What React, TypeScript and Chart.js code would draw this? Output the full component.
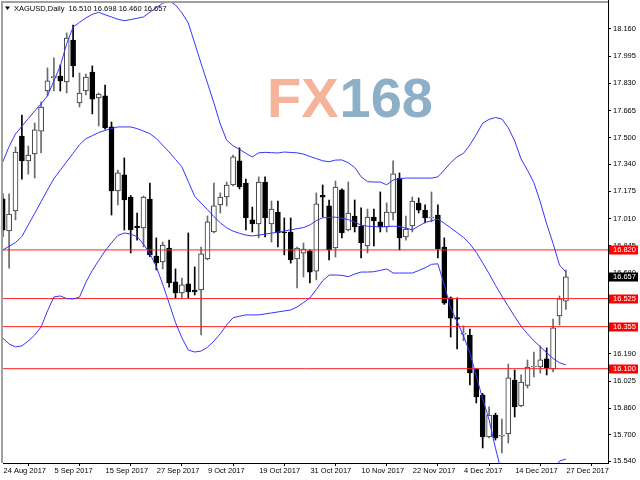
import React, { useEffect, useRef } from "react";
import { Chart, registerables } from "chart.js";

Chart.register(...registerables);

const SYMBOL = "XAGUSD";
const PERIOD = "Daily";

const DATE_LABELS = [
  "24 Aug 2017", "5 Sep 2017", "15 Sep 2017", "27 Sep 2017", "9 Oct 2017", "19 Oct 2017",
  "31 Oct 2017", "10 Nov 2017", "22 Nov 2017", "4 Dec 2017", "14 Dec 2017", "27 Dec 2017",
];
const LABEL_BARS = [0, 8, 16, 24, 32, 40, 48, 56, 64, 72, 80, 88];

const OPEN = [
  17.13, 16.935, 17.056, 17.511, 17.36, 17.402, 17.541, 17.784, 17.865, 17.875,
  17.839, 18.093, 17.711, 17.784, 17.899, 17.742, 17.754, 17.566, 17.178, 17.275,
  17.141, 16.965, 16.953, 17.129, 16.783, 16.747, 16.832, 16.626, 16.559, 16.614,
  16.577, 16.577, 16.765, 16.929, 17.093, 17.141, 17.214, 17.36, 17.226, 17.002,
  16.978, 17.232, 16.978, 17.05, 16.929, 16.929, 16.765, 16.801, 16.814, 16.692,
  17.152, 17.087, 16.832, 17.184, 16.941, 17.026, 16.965, 16.844, 17.02, 16.99,
  16.96, 17.044, 17.256, 16.899, 16.965, 17.105, 17.062, 17.014, 17.032, 16.838,
  16.529, 16.41, 16.31, 16.304, 16.098, 15.94, 15.686, 15.819, 15.69, 15.704,
  16.031, 15.874, 15.999, 16.11, 16.11, 16.159, 16.098, 16.42, 16.51,
];
const HIGH = [
  17.16, 17.16, 17.445, 17.638, 17.45, 17.59, 17.717, 17.924, 17.985, 17.942,
  18.136, 18.184, 17.893, 17.887, 17.936, 17.772, 17.82, 17.596, 17.305, 17.378,
  17.15, 17.044, 17.147, 17.226, 16.893, 16.868, 16.88, 16.705, 16.65, 16.923,
  16.717, 16.838, 17.026, 17.226, 17.166, 17.232, 17.396, 17.439, 17.25, 17.08,
  17.263, 17.263, 17.117, 17.117, 17.014, 17.014, 16.838, 16.862, 16.82, 17.166,
  17.214, 17.123, 17.238, 17.19, 17.232, 17.123, 17.075, 17.068, 17.068, 17.172,
  17.105, 17.36, 17.287, 17.026, 17.141, 17.135, 17.093, 17.172, 17.093, 16.893,
  16.535, 16.529, 16.36, 16.34, 16.1, 15.95, 15.868, 15.83, 15.795, 16.128,
  16.092, 16.062, 16.153, 16.2, 16.238, 16.226, 16.401, 16.541, 16.698,
];
const LOW = [
  16.9, 16.71, 17.002, 17.25, 17.28, 17.256, 17.408, 17.754, 17.785, 17.784,
  17.772, 17.869, 17.687, 17.76, 17.645, 17.572, 17.553, 17.032, 17.093, 16.941,
  16.802, 16.88, 16.838, 16.78, 16.699, 16.705, 16.595, 16.529, 16.529, 16.529,
  16.547, 16.304, 16.76, 16.923, 17.044, 17.087, 17.208, 17.19, 16.941, 16.929,
  16.893, 16.899, 16.868, 16.838, 16.79, 16.74, 16.589, 16.656, 16.62, 16.638,
  17.02, 16.76, 16.777, 16.893, 16.935, 16.929, 16.771, 16.802, 16.844, 16.929,
  16.929, 17.002, 16.82, 16.88, 16.929, 17.044, 16.984, 16.99, 16.771, 16.49,
  16.292, 16.22, 16.27, 16.001, 15.892, 15.619, 15.68, 15.667, 15.589, 15.649,
  15.807, 15.87, 15.983, 16.05, 16.074, 16.062, 16.08, 16.365, 16.46,
];
const CLOSE = [
  16.94, 17.038, 17.414, 17.36, 17.396, 17.548, 17.687, 17.845, 17.872, 17.845,
  18.105, 17.936, 17.772, 17.869, 17.735, 17.766, 17.56, 17.178, 17.287, 17.123,
  16.941, 16.955, 17.141, 16.79, 16.741, 16.85, 16.62, 16.559, 16.608, 16.565,
  16.565, 16.796, 16.99, 17.087, 17.141, 17.214, 17.384, 17.202, 17.014, 16.978,
  17.232, 17.014, 17.068, 16.923, 16.923, 16.759, 16.832, 16.826, 16.686, 17.099,
  17.14, 16.82, 17.202, 16.923, 17.044, 16.96, 16.862, 17.02, 16.996, 16.96,
  17.05, 17.281, 16.893, 16.947, 17.117, 17.062, 17.014, 17.02, 16.826, 16.498,
  16.407, 16.4, 16.31, 16.074, 15.928, 15.686, 15.819, 15.68, 15.695, 16.044,
  15.868, 16.019, 16.11, 16.115, 16.153, 16.104, 16.347, 16.523, 16.657,
];

const BB_UPPER = [
  17.353, 17.447, 17.523, 17.57, 17.617, 17.663, 17.706, 17.755, 17.845, 17.936,
  18.071, 18.172, 18.2, 18.227, 18.249, 18.261, 18.246, 18.233, 18.219, 18.21,
  18.217, 18.225, 18.233, 18.262, 18.289, 18.316, 18.33, 18.306, 18.258, 18.196,
  18.074, 17.951, 17.832, 17.711, 17.584, 17.485, 17.452, 17.43, 17.406, 17.384,
  17.409, 17.412, 17.41, 17.408, 17.414, 17.411, 17.409, 17.401, 17.387, 17.374,
  17.361, 17.355, 17.365, 17.366, 17.349, 17.32, 17.264, 17.234, 17.232, 17.232,
  17.215, 17.244, 17.252, 17.256, 17.256, 17.256, 17.256, 17.256, 17.263, 17.305,
  17.349, 17.385, 17.406, 17.457, 17.52, 17.589, 17.612, 17.623, 17.614, 17.561,
  17.481, 17.372, 17.303, 17.228, 17.111, 16.977, 16.859, 16.729, 16.686,
];
const BB_MIDDLE = [
  16.82, 16.842, 16.865, 16.902, 16.972, 17.042, 17.113, 17.184, 17.252, 17.304,
  17.355, 17.407, 17.458, 17.495, 17.513, 17.532, 17.545, 17.556, 17.566, 17.566,
  17.566, 17.556, 17.541, 17.525, 17.496, 17.455, 17.414, 17.369, 17.324, 17.235,
  17.145, 17.104, 17.065, 17.022, 16.985, 16.954, 16.934, 16.921, 16.91, 16.905,
  16.91, 16.916, 16.922, 16.928, 16.935, 16.942, 16.949, 16.956, 16.971, 16.998,
  17.015, 17.017, 17.019, 17.013, 17.004, 16.988, 16.971, 16.964, 16.962, 16.959,
  16.962, 16.964, 16.962, 16.952, 16.942, 16.965, 16.987, 16.997, 17.008, 16.982,
  16.954, 16.925, 16.896, 16.857, 16.805, 16.742, 16.676, 16.605, 16.54, 16.478,
  16.416, 16.357, 16.312, 16.269, 16.233, 16.197, 16.162, 16.136, 16.123,
];
const BB_LOWER = [
  16.286, 16.25, 16.232, 16.238, 16.268, 16.304, 16.353, 16.45, 16.535, 16.541,
  16.525, 16.523, 16.534, 16.624, 16.696, 16.756, 16.814, 16.864, 16.908, 16.923,
  16.916, 16.901, 16.855, 16.797, 16.719, 16.613, 16.497, 16.38, 16.287, 16.213,
  16.201, 16.207, 16.23, 16.267, 16.312, 16.366, 16.409, 16.418, 16.426, 16.426,
  16.426, 16.432, 16.438, 16.444, 16.45, 16.456, 16.474, 16.501, 16.529, 16.58,
  16.633, 16.668, 16.668, 16.666, 16.658, 16.674, 16.686, 16.686, 16.688, 16.696,
  16.705, 16.68, 16.68, 16.68, 16.68, 16.695, 16.712, 16.733, 16.736, 16.608,
  16.466, 16.388, 16.298, 16.197, 16.054, 15.917, 15.79, 15.617, 15.465, 15.395,
  15.351, 15.343, 15.322, 15.31, 15.355, 15.416, 15.464, 15.54, 15.552,
];

const LEVELS = [16.82, 16.525, 16.355, 16.1];
const Y_TICKS = [
  15.54, 15.7, 15.86, 16.025, 16.19, 16.35, 16.515, 16.68, 16.845,
  17.01, 17.175, 17.34, 17.5, 17.665, 17.83, 17.995, 18.16,
];
const Y_MIN = 15.528;
const Y_MAX = 18.3176;
const X_MIN = 0.047;
const X_MAX = 94.58;

const WATERMARK_A = "FX";
const WATERMARK_B = "168";

const FONT = '"Liberation Sans", Arial, sans-serif';
const BLUE = "#3535ff";
const RED = "#ff2020";

export default function App() {
  const ref = useRef<HTMLCanvasElement | null>(null);

  useEffect(() => {
    const canvas = ref.current;
    if (!canvas) return;
    const n = CLOSE.length;
    const idx = Array.from({ length: n }, (_, i) => i);
    const bull = (i: number) => CLOSE[i] >= OPEN[i];

    const decor = {
      id: "decor",
      beforeDraw(chart: any) {
        const ctx = chart.ctx;
        ctx.save();
        ctx.fillStyle = "#ffffff";
        ctx.fillRect(0, 0, chart.width, chart.height);
        ctx.restore();
      },
      beforeDatasetsDraw(chart: any) {
        const ctx = chart.ctx;
        ctx.save();
        ctx.font = `bold 56px ${FONT}`;
        ctx.textBaseline = "alphabetic";
        ctx.textAlign = "left";
        ctx.fillStyle = "#f5b39a";
        ctx.fillText(WATERMARK_A, 267, 117);
        const w = ctx.measureText(WATERMARK_A).width;
        ctx.fillStyle = "#8db0c8";
        ctx.fillText(WATERMARK_B, 267 + w + 1, 117);
        ctx.restore();
      },
      afterDraw(chart: any) {
        const ctx = chart.ctx;
        const ca = chart.chartArea;
        const xs = chart.scales.x;
        const ys = chart.scales.y;
        ctx.save();
        // frame
        ctx.fillStyle = "#a0a0a0";
        ctx.fillRect(1, 1, 2, ca.bottom - 1);
        ctx.fillRect(1, 1, ca.right - 1, 2);
        ctx.fillStyle = "#000";
        ctx.fillRect(ca.right, 0, 1, ca.top + 1);

        // title
        ctx.beginPath();
        ctx.moveTo(5, 6.5);
        ctx.lineTo(10, 6.5);
        ctx.lineTo(7.5, 10);
        ctx.closePath();
        ctx.fill();
        ctx.font = `7.5px ${FONT}`;
        ctx.textBaseline = "middle";
        ctx.textAlign = "left";
        const last = n - 1;
        const title = `${SYMBOL},${PERIOD}  ${OPEN[last].toFixed(3)} ${HIGH[last].toFixed(3)} ${LOW[last].toFixed(3)} ${CLOSE[last].toFixed(3)}`;
        ctx.fillText(title, 14, 8.5);

        // x labels
        LABEL_BARS.forEach((b, k) => {
          const px = xs.getPixelForValue(b);
          ctx.fillStyle = "#000";
          ctx.fillText(DATE_LABELS[k], Math.max(px, 3) + 0.5, 471);
        });

        // price labels
        const drawTag = (v: number, bg: string) => {
          const py = ys.getPixelForValue(v);
          ctx.fillStyle = bg;
          ctx.fillRect(ca.right + 1, Math.round(py) - 4.5, 29, 9);
          ctx.fillStyle = "#fff";
          ctx.fillText(v.toFixed(3), ca.right + 5, Math.round(py));
        };
        LEVELS.forEach((lv) => drawTag(lv, "#ff0000"));
        drawTag(CLOSE[last], "#000000");
        ctx.restore();
      },
    };

    const bandDs = (vals: number[], label: string) => ({
      type: "line" as const,
      label,
      data: vals.map((v, i) => ({ x: i, y: v })),
      borderColor: BLUE,
      borderWidth: 1,
      pointRadius: 0,
      tension: 0,
      fill: false,
      order: 0,
    });

    const levelDs = LEVELS.map((lv) => ({
      type: "line" as const,
      label: `level ${lv}`,
      data: [
        { x: X_MIN, y: lv },
        { x: X_MAX, y: lv },
      ],
      borderColor: RED,
      borderWidth: 1,
      pointRadius: 0,
      fill: false,
      order: 0,
    }));

    const chart = new Chart(canvas, {
      type: "bar",
      data: {
        datasets: [
          bandDs(BB_UPPER, "upper"),
          bandDs(BB_MIDDLE, "middle"),
          bandDs(BB_LOWER, "lower"),
          ...levelDs,
          {
            type: "bar" as const,
            label: "body",
            data: idx.map((i) => ({ x: i, y: [OPEN[i], CLOSE[i]] })),
            backgroundColor: idx.map((i) => (bull(i) ? "#ffffff" : "#000000")),
            borderColor: idx.map((i) => (bull(i) ? "#303030" : "#000000")),
            borderWidth: 1,
            borderSkipped: false,
            barThickness: 5,
            minBarLength: 1,
            grouped: false,
            order: 1,
          } as any,
          {
            type: "bar" as const,
            label: "wick",
            data: idx.map((i) => ({ x: i, y: [LOW[i], HIGH[i]] })),
            backgroundColor: idx.map((i) => (bull(i) ? "#6a6a6a" : "#000000")),
            borderWidth: 0,
            barThickness: 1,
            grouped: false,
            order: 2,
          } as any,
        ],
      },
      options: {
        responsive: false,
        animation: false,
        devicePixelRatio: 1,
        events: [],
        layout: { padding: { left: 3, top: 3, right: 0, bottom: 0 } },
        plugins: {
          legend: { display: false },
          tooltip: { enabled: false },
          title: { display: false },
        },
        scales: {
          x: {
            type: "linear",
            min: X_MIN,
            max: X_MAX,
            offset: false,
            grid: {
              display: true,
              drawOnChartArea: false,
              drawTicks: true,
              tickLength: 3,
              color: "#000",
              lineWidth: 1,
            },
            border: { display: true, color: "#000", width: 1 },
            ticks: { display: false },
            afterBuildTicks: (s: any) => {
              s.ticks = LABEL_BARS.map((v) => ({ value: v }));
            },
            afterFit: (s: any) => {
              s.height = 17;
              s.paddingLeft = 0;
              s.paddingRight = 0;
            },
          },
          y: {
            type: "linear",
            position: "right",
            min: Y_MIN,
            max: Y_MAX,
            grid: {
              display: true,
              drawOnChartArea: false,
              drawTicks: true,
              tickLength: 3,
              color: "#000",
              lineWidth: 1,
            },
            border: { display: true, color: "#000", width: 1 },
            ticks: {
              autoSkip: false,
              padding: 2,
              color: "#000",
              font: { family: FONT, size: 7.5 },
              callback: (v: any) => Number(v).toFixed(3),
            },
            afterBuildTicks: (s: any) => {
              s.ticks = Y_TICKS.map((v) => ({ value: v }));
            },
            afterFit: (s: any) => {
              s.width = 32;
              s.paddingTop = 0;
              s.paddingBottom = 0;
            },
          },
        },
      } as any,
      plugins: [decor],
    });

    return () => chart.destroy();
  }, []);

  return (
    <div style={{ position: "fixed", left: 0, top: 0, width: 640, height: 480, background: "#fff" }}>
      <canvas ref={ref} width={640} height={480} style={{ display: "block", width: 640, height: 480 }} />
    </div>
  );
}
